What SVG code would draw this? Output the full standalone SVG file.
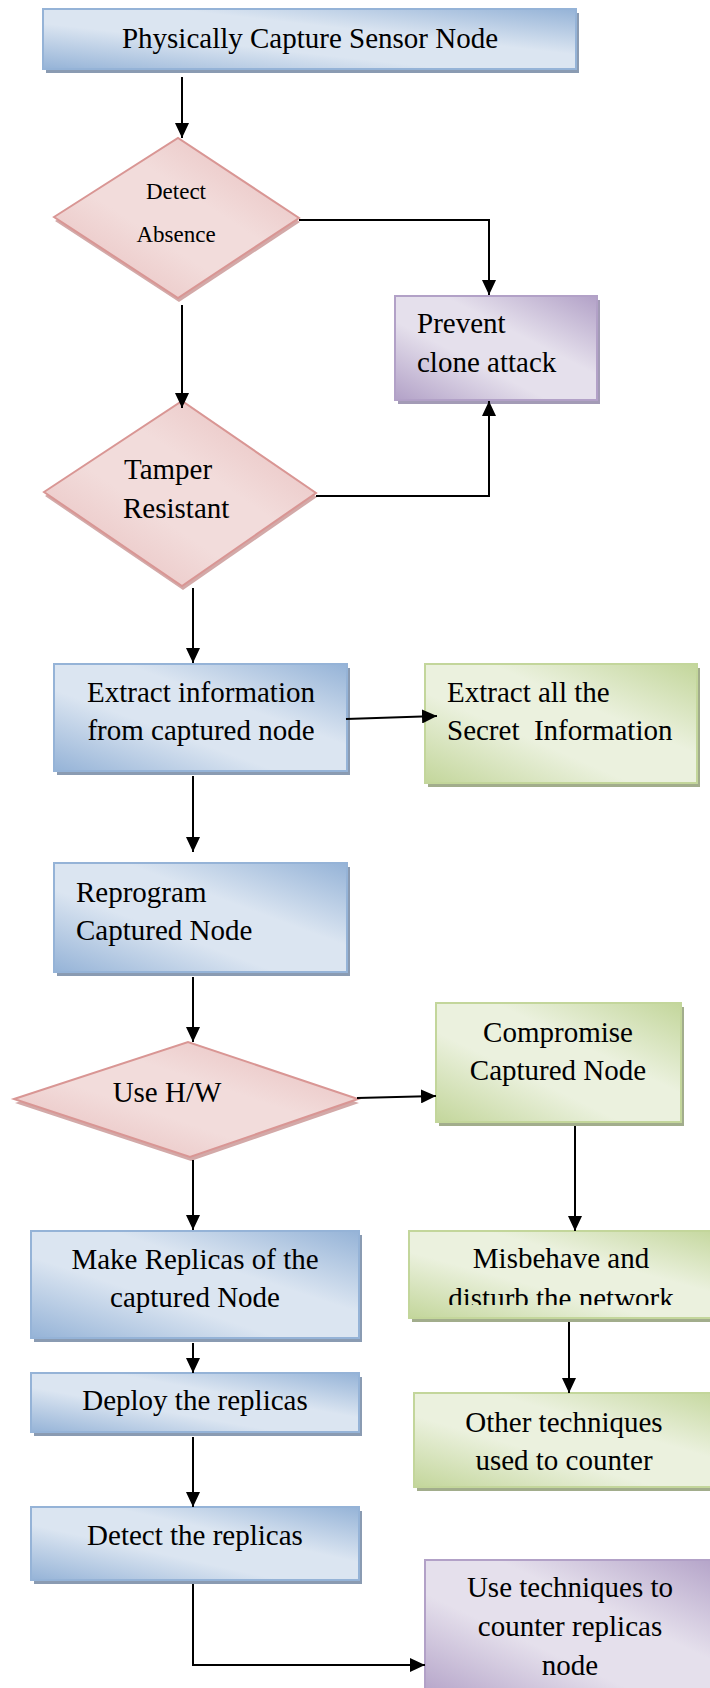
<svg xmlns="http://www.w3.org/2000/svg" width="710" height="1688" viewBox="0 0 710 1688">
<defs>
<linearGradient id="gBlue" x1="0" y1="1" x2="1" y2="0">
<stop offset="0" stop-color="#95b3d7"/><stop offset="0.38" stop-color="#dbe5f1"/><stop offset="0.62" stop-color="#dbe5f1"/><stop offset="1" stop-color="#95b3d7"/>
</linearGradient>
<linearGradient id="gGreen" x1="0" y1="1" x2="1" y2="0">
<stop offset="0" stop-color="#c3d69b"/><stop offset="0.38" stop-color="#ebf1de"/><stop offset="0.62" stop-color="#ebf1de"/><stop offset="1" stop-color="#c3d69b"/>
</linearGradient>
<linearGradient id="gPurple" x1="0" y1="1" x2="1" y2="0">
<stop offset="0" stop-color="#b2a1c7"/><stop offset="0.38" stop-color="#e5e0ec"/><stop offset="0.62" stop-color="#e5e0ec"/><stop offset="1" stop-color="#b2a1c7"/>
</linearGradient>
<linearGradient id="gPink" x1="0" y1="1" x2="1" y2="0">
<stop offset="0" stop-color="#e6b9b8"/><stop offset="0.4" stop-color="#f2dcdb"/><stop offset="0.6" stop-color="#f2dcdb"/><stop offset="1" stop-color="#e6b9b8"/>
</linearGradient>
<marker id="arr" markerUnits="userSpaceOnUse" markerWidth="15" markerHeight="14" refX="15" refY="7" orient="auto">
<path d="M0,0 L15,7 L0,14 z" fill="#000"/>
</marker>
<clipPath id="clipMis"><rect x="400" y="1225" width="320" height="80"/></clipPath>
</defs>
<style>
.t{font-family:"Liberation Serif","Times New Roman",serif;font-size:29px;fill:#000}
.s{font-family:"Liberation Serif","Times New Roman",serif;font-size:23px;fill:#000}
.c{text-anchor:middle}
.blue{fill:url(#gBlue);stroke:#95b3d7;stroke-width:2}
.green{fill:url(#gGreen);stroke:#c3d69b;stroke-width:2}
.purple{fill:url(#gPurple);stroke:#b2a1c7;stroke-width:2}
.pink{fill:url(#gPink);stroke:#d99694;stroke-width:2}
.shB{fill:#8a9bb2}
.shG{fill:#a2ad8c}
.shP{fill:#a39bb6}
.shK{fill:#d3a9a8}
.ln{fill:none;stroke:#000;stroke-width:2;marker-end:url(#arr)}
</style>
<rect width="710" height="1688" fill="#fff"/>

<g id="n-capture">
<rect class="shB" x="46" y="13" width="533" height="60"/>
<rect class="blue" x="43" y="9" width="533" height="60"/>
<text class="t c" x="310" y="48">Physically Capture Sensor Node</text>
</g>

<g id="n-detect-absence">
<polygon class="shK" points="55,221 179,142 300,222 179,302"/>
<polygon class="pink" points="54,217 178,138 299,218 178,298"/>
<text class="s c" x="176" y="199">Detect</text>
<text class="s c" x="176" y="242">Absence</text>
</g>

<g id="n-prevent">
<rect class="shP" x="398" y="300" width="202" height="104"/>
<rect class="purple" x="395" y="296" width="202" height="104"/>
<text class="t" x="417" y="333">Prevent</text>
<text class="t" x="417" y="372">clone attack</text>
</g>

<g id="n-tamper">
<polygon class="shK" points="45,496 183,405 317,497 183,590"/>
<polygon class="pink" points="44,492 182,401 316,493 182,586"/>
<text class="t" x="124" y="479">Tamper</text>
<text class="t" x="123" y="518">Resistant</text>
</g>

<g id="n-extract-info">
<rect class="shB" x="57" y="668" width="293" height="107"/>
<rect class="blue" x="54" y="664" width="293" height="107"/>
<text class="t c" x="201" y="702">Extract information</text>
<text class="t c" x="201" y="740">from captured node</text>
</g>

<g id="n-extract-all">
<rect class="shG" x="428" y="668" width="272" height="119"/>
<rect class="green" x="425" y="664" width="272" height="119"/>
<text class="t" x="447" y="702">Extract all the</text>
<text class="t" x="447" y="740" xml:space="preserve">Secret  Information</text>
</g>

<g id="n-reprogram">
<rect class="shB" x="57" y="867" width="293" height="109"/>
<rect class="blue" x="54" y="863" width="293" height="109"/>
<text class="t" x="76" y="902">Reprogram</text>
<text class="t" x="76" y="940">Captured Node</text>
</g>

<g id="n-use-hw">
<polygon class="shK" points="15,1103 189,1046 359,1103 191,1161"/>
<polygon class="pink" points="14,1099 188,1042 358,1099 190,1157"/>
<text class="t c" x="167" y="1102">Use H/W</text>
</g>

<g id="n-compromise">
<rect class="shG" x="439" y="1007" width="245" height="119"/>
<rect class="green" x="436" y="1003" width="245" height="119"/>
<text class="t c" x="558" y="1042">Compromise</text>
<text class="t c" x="558" y="1080">Captured Node</text>
</g>

<g id="n-make-replicas">
<rect class="shB" x="34" y="1235" width="328" height="107"/>
<rect class="blue" x="31" y="1231" width="328" height="107"/>
<text class="t c" x="195" y="1269">Make Replicas of the</text>
<text class="t c" x="195" y="1307">captured Node</text>
</g>

<g id="n-misbehave">
<rect class="shG" x="412" y="1235" width="320" height="87"/>
<rect class="green" x="409" y="1231" width="320" height="87"/>
<text class="t c" x="561" y="1268">Misbehave and</text>
<text class="t c" x="561" y="1308" clip-path="url(#clipMis)">disturb the network</text>
</g>

<g id="n-deploy">
<rect class="shB" x="34" y="1377" width="328" height="59"/>
<rect class="blue" x="31" y="1373" width="328" height="59"/>
<text class="t c" x="195" y="1410">Deploy the replicas</text>
</g>

<g id="n-other">
<rect class="shG" x="417" y="1397" width="320" height="94"/>
<rect class="green" x="414" y="1393" width="320" height="94"/>
<text class="t c" x="564" y="1432">Other techniques</text>
<text class="t c" x="564" y="1470">used to counter</text>
</g>

<g id="n-detect-replicas">
<rect class="shB" x="34" y="1511" width="328" height="73"/>
<rect class="blue" x="31" y="1507" width="328" height="73"/>
<text class="t c" x="195" y="1545">Detect the replicas</text>
</g>

<g id="n-use-techniques">
<rect class="shP" x="428" y="1564" width="300" height="140"/>
<rect class="purple" x="425" y="1560" width="300" height="140"/>
<text class="t c" x="570" y="1597">Use techniques to</text>
<text class="t c" x="570" y="1636">counter replicas</text>
<text class="t c" x="570" y="1675">node</text>
</g>

<g id="connectors">
<path class="ln" d="M182,77 V138"/>
<path class="ln" d="M299,220 H489 V295"/>
<path class="ln" d="M182,305 V408"/>
<path class="ln" d="M316,496 H489 V401"/>
<path class="ln" d="M193,588 V663"/>
<path class="ln" d="M346,719 L437,716"/>
<path class="ln" d="M193,776 V852"/>
<path class="ln" d="M193,977 V1042"/>
<path class="ln" d="M357,1098 L436,1096"/>
<path class="ln" d="M193,1160 V1230"/>
<path class="ln" d="M575,1126 V1231"/>
<path class="ln" d="M193,1343 V1373"/>
<path class="ln" d="M569,1322 V1393"/>
<path class="ln" d="M193,1437 V1507"/>
<path class="ln" d="M193,1584 V1665 H425"/>
</g>
</svg>
